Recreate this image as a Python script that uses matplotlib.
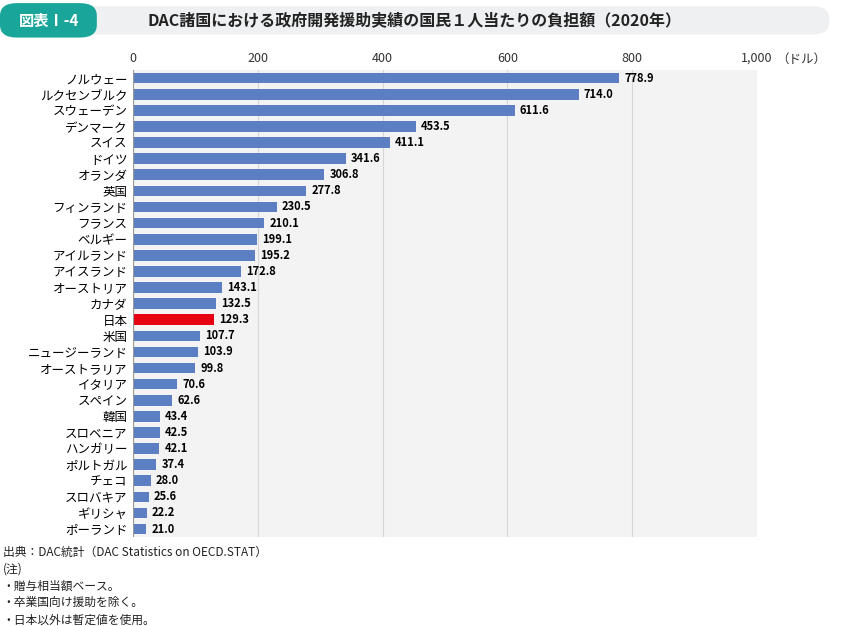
import matplotlib.pyplot as plt
from matplotlib.patches import FancyBboxPatch

plt.rcParams['font.family'] = 'Noto Sans CJK JP'

countries = ['ノルウェー', 'ルクセンブルク', 'スウェーデン', 'デンマーク', 'スイス', 'ドイツ',
             'オランダ', '英国', 'フィンランド', 'フランス', 'ベルギー', 'アイルランド',
             'アイスランド', 'オーストリア', 'カナダ', '日本', '米国', 'ニュージーランド',
             'オーストラリア', 'イタリア', 'スペイン', '韓国', 'スロベニア', 'ハンガリー',
             'ポルトガル', 'チェコ', 'スロバキア', 'ギリシャ', 'ポーランド']
values = [778.9, 714.0, 611.6, 453.5, 411.1, 341.6, 306.8, 277.8, 230.5, 210.1, 199.1,
          195.2, 172.8, 143.1, 132.5, 129.3, 107.7, 103.9, 99.8, 70.6, 62.6, 43.4, 42.5,
          42.1, 37.4, 28.0, 25.6, 22.2, 21.0]
xticks = [0, 200, 400, 600, 800, 1000]
xtick_labels = ['0', '200', '400', '600', '800', '1,000']

fig = plt.figure(figsize=(8.42, 6.26), dpi=100)

# header
fig.patches.append(FancyBboxPatch((0.01, 0.945), 0.975, 0.045, boxstyle='round,pad=0,rounding_size=0.02',
                                  transform=fig.transFigure, facecolor='#eef0f1', edgecolor='none'))
fig.patches.append(FancyBboxPatch((0.0, 0.94), 0.115, 0.055, boxstyle='round,pad=0,rounding_size=0.02',
                                  transform=fig.transFigure, facecolor='#1aa59a', edgecolor='none'))
fig.text(0.058, 0.967, '図表Ⅰ-4', color='white', fontsize=11, fontweight='bold', ha='center', va='center')
fig.text(0.175, 0.967, 'DAC諸国における政府開発援助実績の国民１人当たりの負担額（2020年）',
         fontsize=11.5, fontweight='bold', ha='left', va='center', color='#222222')

ax = fig.add_axes([0.158, 0.142, 0.741, 0.746])
ax.set_facecolor('#f3f3f3')
y = range(len(countries))
colors = ['#e60012' if c == '日本' else '#5b7fc2' for c in countries]
ax.barh(y, values, height=0.66, color=colors, zorder=3)
for i, v in enumerate(values):
    ax.text(v + 8, i, f'{v:.1f}', va='center', ha='left', fontsize=8, fontweight='bold', zorder=4)
ax.set_ylim(len(countries) - 0.5, -0.5)
ax.set_yticks(list(y))
ax.set_yticklabels(countries, fontsize=9)
ax.set_xlim(0, 1000)
ax.set_xticks(xticks)
ax.set_xticklabels(xtick_labels, fontsize=9, color='#333333')
ax.xaxis.tick_top()
ax.tick_params(length=0, pad=4)
ax.grid(axis='x', color='#d6d6d6', linewidth=0.8, zorder=0)
for s in ax.spines.values():
    s.set_visible(False)
ax.axvline(0, color='#999999', linewidth=0.8, zorder=4)
fig.text(0.922, 0.905, '（ドル）', fontsize=9, ha='left', va='center', color='#333333')

notes = ['出典：DAC統計（DAC Statistics on OECD.STAT）', '(注)', '・贈与相当額ベース。',
         '・卒業国向け援助を除く。', '・日本以外は暫定値を使用。']
for i, n in enumerate(notes):
    fig.text(0.003, 0.118 - i * 0.027, n, fontsize=8.5, ha='left', va='center', color='#222222')

fig.savefig('out.png', dpi=100)
